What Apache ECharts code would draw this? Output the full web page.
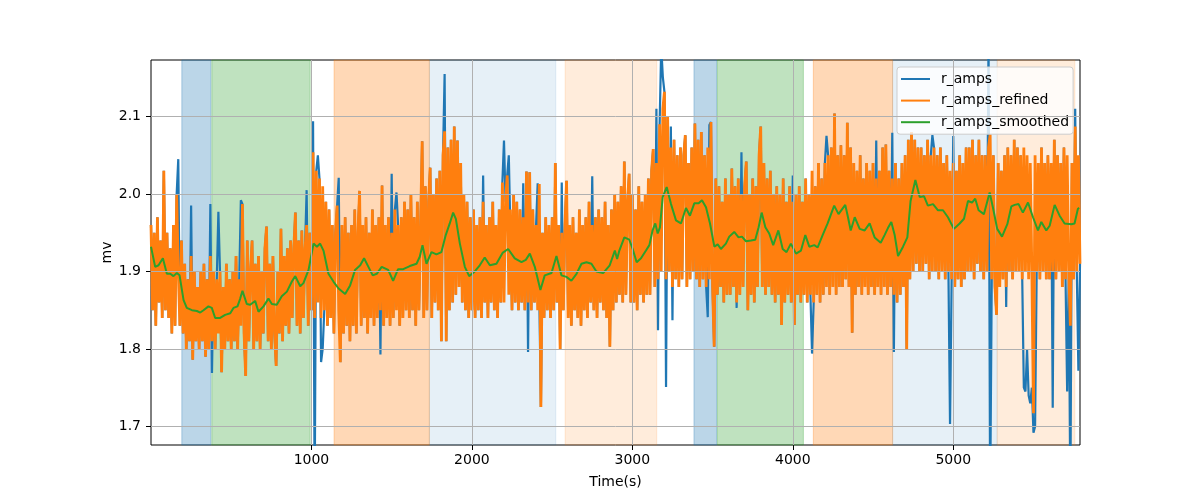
<!DOCTYPE html>
<html><head><meta charset="utf-8">
<script src="https://cdn.jsdelivr.net/npm/echarts@6/dist/echarts.min.js"></script>
<style>html,body{margin:0;padding:0;background:#fff}#chart{width:1200px;height:500px}</style>
</head><body><div id="chart"></div>
<script>
// ---- data ----
const seriesNames = ['r_amps', 'r_amps_refined', 'r_amps_smoothed'];
const xTicks = [1000, 2000, 3000, 4000, 5000];
const yTicks = [1.7, 1.8, 1.9, 2.0, 2.1];
const xRange = [0, 5790];
const yRange = [1.676, 2.173];

// sample period of the amplitude recordings (s)
const samplePeriod = 10;

// r_amps_refined, one value per sample (rows of 100 s)
const ampsRefined = [
  1.96, 1.85, 1.95, 1.83, 1.97, 1.86, 1.94, 1.84, 2.03, 1.85,
  1.95, 1.84, 1.93, 1.82, 1.96, 1.83, 2.00, 1.90, 1.83, 1.94,
  1.82, 1.91, 1.80, 1.89, 1.81, 1.92, 1.786, 1.90, 1.81, 1.88,
  1.80, 1.90, 1.81, 1.91, 1.79, 1.89, 1.80, 1.92, 1.81, 1.90,
  1.80, 1.89, 1.82, 1.90, 1.77, 1.88, 1.80, 1.91, 1.81, 1.89,
  1.80, 1.90, 1.81, 1.92, 1.80, 1.89, 1.83, 1.987, 1.82, 1.765,
  1.94, 1.81, 1.90, 1.94, 1.80, 1.91, 1.81, 1.92, 1.80, 1.90,
  1.82, 1.93, 1.958, 1.81, 1.91, 1.80, 1.92, 1.82, 1.778, 1.90,
  1.82, 1.955, 1.81, 1.92, 1.83, 1.93, 1.82, 1.94, 1.84, 1.93,
  1.976, 1.83, 1.94, 1.82, 1.953, 1.84, 1.93, 1.96, 1.83, 1.95,
  1.85, 2.054, 1.84, 2.03, 1.86, 2.02, 1.84, 2.01, 1.85, 1.99,
  1.83, 1.98, 1.84, 1.96, 1.82, 1.95, 1.985, 1.85, 1.783, 1.96,
  1.82, 1.97, 1.83, 1.95, 1.81, 1.96, 1.83, 1.98, 1.82, 1.95,
  2.004, 1.83, 1.96, 1.84, 1.97, 1.82, 1.95, 1.84, 1.98, 1.83,
  1.96, 1.84, 1.97, 1.85, 2.011, 1.83, 1.96, 1.84, 1.97, 1.83,
  1.95, 1.84, 1.98, 1.85, 1.96, 1.83, 1.97, 1.84, 1.99, 1.85,
  1.98, 1.84, 2.00, 1.85, 1.97, 1.83, 1.99, 1.85, 1.96, 2.068,
  1.84, 2.01, 1.85, 1.99, 2.034, 1.84, 2.00, 1.86, 2.02, 1.85,
  2.03, 1.81, 2.05, 2.081, 1.81, 2.06, 1.85, 2.07, 1.86, 2.087,
  1.87, 2.069, 1.88, 2.04, 1.86, 2.00, 1.85, 1.99, 1.84, 1.97,
  1.85, 1.98, 1.84, 1.96, 1.85, 1.97, 1.84, 1.99, 1.86, 1.96,
  1.84, 1.97, 1.86, 1.99, 1.85, 1.96, 1.84, 1.98, 1.86, 2.015,
  1.86, 1.99, 2.024, 1.87, 1.98, 1.85, 2.00, 1.86, 1.99, 1.85,
  1.98, 1.86, 1.97, 1.85, 2.029, 1.86, 2.028, 1.85, 1.98, 1.86,
  1.96, 1.85, 2.013, 1.725, 1.95, 1.84, 1.97, 1.85, 1.96, 1.84,
  1.97, 1.85, 2.04, 1.86, 1.96, 1.80, 1.95, 1.85, 1.96, 2.017,
  1.84, 1.96, 1.83, 1.97, 1.85, 1.95, 1.84, 1.98, 1.83, 1.96,
  1.85, 1.97, 1.84, 1.99, 1.86, 1.96, 1.85, 1.97, 1.84, 1.98,
  1.86, 1.97, 1.85, 1.99, 1.84, 1.96, 1.803, 1.98, 1.85, 2.00,
  1.86, 1.99, 1.87, 2.01, 1.86, 2.042, 1.87, 1.99, 2.026, 1.86,
  2.00, 1.86, 1.98, 1.85, 2.01, 1.87, 1.99, 1.86, 2.00, 1.87,
  2.02, 1.87, 2.03, 2.058, 1.88, 2.04, 1.89, 2.09, 1.90, 2.11,
  2.132, 1.89, 2.10, 1.90, 2.06, 1.88, 2.07, 1.89, 2.05, 1.88,
  2.06, 1.89, 2.05, 2.076, 1.88, 2.04, 1.89, 2.06, 1.90, 2.091,
  1.89, 2.07, 1.88, 2.08, 1.89, 2.05, 1.88, 2.06, 1.89, 2.093,
  1.88, 1.803, 2.02, 1.87, 2.01, 1.88, 1.99, 1.86, 2.02, 1.87,
  2.00, 1.87, 2.033, 1.88, 2.01, 1.86, 2.02, 1.87, 2.00, 1.88,
  2.01, 2.042, 1.85, 2.00, 1.87, 2.02, 1.86, 2.01, 1.88, 2.05,
  2.087, 1.88, 2.04, 1.87, 2.02, 1.88, 2.03, 1.87, 2.00, 1.86,
  2.01, 1.87, 2.00, 1.831, 2.02, 1.86, 1.99, 1.87, 2.01, 1.86,
  1.99, 1.831, 2.00, 1.87, 2.01, 1.86, 1.99, 1.87, 2.02, 1.86,
  2.00, 1.87, 2.03, 1.86, 2.01, 1.87, 2.04, 1.86, 2.02, 1.87,
  2.04, 1.88, 2.05, 1.87, 2.06, 1.88, 2.104, 1.87, 2.05, 1.88,
  2.063, 1.88, 2.05, 1.89, 2.092, 1.88, 2.06, 1.821, 2.04, 1.87,
  2.03, 1.88, 2.05, 1.87, 2.02, 1.88, 2.04, 1.87, 2.03, 1.88,
  2.04, 1.87, 2.02, 1.88, 2.03, 1.87, 2.06, 1.88, 2.064, 1.87,
  2.03, 1.88, 2.02, 1.87, 2.04, 1.86, 2.02, 1.87, 2.04, 1.88,
  2.05, 1.80, 2.07, 1.89, 2.08, 1.90, 2.07, 1.91, 2.06, 1.90,
  2.06, 1.90, 2.05, 1.91, 2.07, 1.89, 2.05, 1.90, 2.06, 1.90,
  2.05, 1.89, 2.06, 1.90, 2.04, 1.89, 2.05, 1.90, 2.03, 1.89,
  2.04, 1.88, 2.03, 1.89, 2.05, 1.88, 2.04, 1.89, 2.06, 1.90,
  2.06, 1.90, 2.07, 1.89, 2.05, 1.91, 2.07, 1.90, 2.05, 1.89,
  2.05, 1.90, 2.06, 2.077, 1.89, 2.05, 1.88, 1.844, 2.04, 1.88,
  2.03, 1.89, 2.05, 1.88, 2.06, 1.90, 2.05, 1.89, 2.07, 1.90,
  2.06, 1.90, 2.05, 1.89, 2.06, 1.90, 2.05, 1.89, 2.04, 1.90,
  1.717, 2.05, 1.90, 2.04, 1.89, 2.06, 1.90, 2.04, 1.89, 2.05,
  1.89, 2.04, 1.90, 2.07, 1.89, 2.05, 1.90, 2.04, 1.88, 2.06,
  1.89, 2.05, 1.90, 1.83, 2.04, 1.89, 2.087, 1.90, 2.05, 1.91
];

// r_amps: samples where the raw amplitude differs from the refined one (outliers)
const rawOutlierTimes = [170, 250, 370, 380, 420, 560, 970, 1010, 1020, 1040, 1060, 1070, 1170,
  1430, 1500, 1530, 1830, 2070, 2200, 2230, 2240, 2320, 2350, 2410, 2560, 2750, 3150, 3160,
  3180, 3190, 3210, 3240, 3250, 3470, 3480, 3650, 3680, 4000, 4120, 4210, 4520, 4620, 4630,
  4870, 4980, 5000, 5220, 5230, 5330, 5440, 5450, 5460, 5470, 5480, 5490, 5500, 5510,
  5620, 5710, 5730, 5760, 5780];
const rawOutlierValues = [2.045, 1.985, 1.987, 1.769, 1.977, 1.992, 2.005, 2.094, 1.60, 2.05, 1.783, 1.80, 2.021,
  1.793, 2.026, 2.002, 2.155, 2.024, 2.069, 2.05, 2.05, 2.014, 1.796, 2.014, 2.015, 2.023, 2.11, 1.824,
  2.19, 2.151, 1.751, 2.087, 1.837, 1.841, 2.089, 1.853, 2.054, 2.024, 1.794, 2.075, 2.069, 2.079, 1.796,
  2.076, 1.703, 2.075, 2.20, 1.60, 1.854, 1.75, 1.745, 1.80, 1.74, 1.73, 1.75, 1.692, 1.70,
  1.724, 1.745, 1.60, 2.11, 1.772];

// r_amps_smoothed
const smoothTimes = [0, 26, 47, 74, 99, 120, 140, 161, 178, 203, 223, 255, 286, 307, 327, 358, 379, 400, 431, 462,
  494, 514, 539, 556, 570, 597, 618, 649, 670, 701, 732, 753, 784, 815, 847, 878, 899, 930, 950, 982,
  1013, 1034, 1054, 1075, 1106, 1137, 1169, 1210, 1241, 1272, 1304, 1328, 1355, 1382, 1407, 1438, 1478, 1509, 1540, 1572,
  1613, 1655, 1675, 1692, 1717, 1748, 1779, 1810, 1837, 1862, 1883, 1900, 1925, 1956, 1983, 2018, 2049, 2080, 2112, 2153,
  2191, 2226, 2267, 2309, 2336, 2361, 2392, 2427, 2454, 2496, 2527, 2558, 2589, 2620, 2652, 2683, 2714, 2745, 2776, 2818,
  2859, 2891, 2905, 2919, 2950, 2981, 3002, 3027, 3054, 3085, 3106, 3126, 3143, 3158, 3172, 3189, 3214, 3241, 3272, 3303,
  3334, 3359, 3386, 3413, 3434, 3459, 3484, 3511, 3532, 3552, 3583, 3604, 3635, 3662, 3683, 3708, 3739, 3766, 3787, 3806,
  3829, 3853, 3878, 3910, 3937, 3961, 3988, 4020, 4051, 4078, 4103, 4134, 4155, 4186, 4217, 4258, 4285, 4327, 4344, 4361,
  4386, 4417, 4448, 4479, 4510, 4548, 4572, 4593, 4614, 4635, 4656, 4687, 4714, 4734, 4764, 4791, 4818, 4842, 4874, 4905,
  4936, 4967, 5004, 5040, 5067, 5092, 5117, 5137, 5158, 5191, 5227, 5247, 5274, 5304, 5337, 5362, 5383, 5407, 5434, 5466,
  5497, 5528, 5549, 5580, 5601, 5632, 5663, 5694, 5736, 5756, 5777, 5785];
const smoothValues = [1.932, 1.906, 1.908, 1.917, 1.897, 1.897, 1.894, 1.898, 1.895, 1.863, 1.853, 1.850, 1.849, 1.847, 1.850, 1.855, 1.853, 1.840, 1.840, 1.844,
  1.846, 1.853, 1.855, 1.865, 1.875, 1.858, 1.857, 1.862, 1.848, 1.855, 1.865, 1.858, 1.857, 1.868, 1.874, 1.887, 1.894, 1.881, 1.885, 1.902,
  1.936, 1.932, 1.936, 1.927, 1.897, 1.887, 1.878, 1.871, 1.882, 1.902, 1.908, 1.917, 1.906, 1.895, 1.897, 1.906, 1.902, 1.888, 1.903, 1.903,
  1.907, 1.910, 1.919, 1.934, 1.910, 1.925, 1.922, 1.925, 1.947, 1.962, 1.976, 1.968, 1.936, 1.906, 1.894, 1.900, 1.908, 1.918, 1.908, 1.910,
  1.924, 1.929, 1.917, 1.912, 1.915, 1.923, 1.906, 1.876, 1.895, 1.898, 1.920, 1.895, 1.893, 1.888, 1.897, 1.910, 1.912, 1.910, 1.900, 1.898,
  1.908, 1.927, 1.916, 1.927, 1.944, 1.941, 1.929, 1.912, 1.917, 1.927, 1.934, 1.953, 1.962, 1.949, 1.957, 1.996, 2.009, 1.987, 1.966, 1.962,
  1.982, 1.972, 1.988, 1.988, 1.992, 1.983, 1.962, 1.932, 1.935, 1.929, 1.936, 1.945, 1.951, 1.944, 1.945, 1.939, 1.940, 1.941, 1.957, 1.976,
  1.957, 1.949, 1.934, 1.953, 1.929, 1.925, 1.936, 1.923, 1.927, 1.947, 1.932, 1.934, 1.931, 1.947, 1.962, 1.985, 1.974, 1.986, 1.970, 1.953,
  1.970, 1.955, 1.953, 1.962, 1.944, 1.937, 1.947, 1.956, 1.964, 1.947, 1.920, 1.932, 1.944, 1.991, 2.018, 1.996, 1.997, 1.985, 1.987, 1.979,
  1.979, 1.970, 1.955, 1.962, 1.968, 1.991, 1.989, 1.994, 1.979, 1.974, 2.002, 1.983, 1.955, 1.945, 1.961, 1.984, 1.986, 1.987, 1.976, 1.989,
  1.970, 1.953, 1.964, 1.953, 1.959, 1.986, 1.972, 1.962, 1.961, 1.962, 1.981, 1.982];

// shaded intervals (s) and their colours
const spanStarts = [192, 379, 1141, 1735, 2581, 3384, 3530, 4128, 4622, 5274];
const spanEnds   = [373, 992, 1735, 2523, 3152, 3525, 4066, 4622, 5274, 5758];
const spanColors = ['rgba(31,119,180,0.3)', 'rgba(44,160,44,0.3)', 'rgba(255,127,14,0.3)',
  'rgba(31,119,180,0.11)', 'rgba(255,127,14,0.15)', 'rgba(31,119,180,0.3)', 'rgba(44,160,44,0.3)',
  'rgba(255,127,14,0.3)', 'rgba(31,119,180,0.11)', 'rgba(255,127,14,0.15)'];

// ---- build ----
const refinedPts = ampsRefined.map((v, i) => [i * samplePeriod, v]);
const rawPts = refinedPts.map(p => p.slice());
rawOutlierTimes.forEach((t, k) => { rawPts[Math.round(t / samplePeriod)][1] = rawOutlierValues[k]; });
const smoothPts = smoothTimes.map((t, i) => [t, smoothValues[i]]);

const FONT = 'DejaVu Sans';
const chart = echarts.init(document.getElementById('chart'), null, {renderer: 'canvas'});
const gridLines = yTicks.map(v => ({yAxis: v})).concat(xTicks.map(v => ({xAxis: v})));

chart.setOption({
  animation: false,
  backgroundColor: '#ffffff',
  textStyle: {fontFamily: FONT},
  grid: {left: 151, right: 120, top: 60, bottom: 55, show: true, borderColor: '#000', borderWidth: 1, backgroundColor: 'transparent'},
  xAxis: {
    type: 'value', min: xRange[0], max: xRange[1],
    name: 'Time(s)', nameLocation: 'middle', nameGap: 30,
    nameTextStyle: {fontFamily: FONT, fontSize: 14, color: '#000'},
    axisLine: {show: false},
    axisTick: {show: true, inside: false, length: 5, lineStyle: {color: '#000'}, customValues: xTicks},
    axisLabel: {fontFamily: FONT, fontSize: 14, color: '#000', margin: 8, customValues: xTicks,
      formatter: v => String(v)},
    splitLine: {show: false}
  },
  yAxis: {
    type: 'value', min: yRange[0], max: yRange[1],
    name: 'mv', nameLocation: 'middle', nameGap: 37, nameRotate: 90, nameMoveOverlap: false,
    nameTextStyle: {fontFamily: FONT, fontSize: 14, color: '#000'},
    axisLine: {show: false},
    axisTick: {show: true, inside: false, length: 5, lineStyle: {color: '#000'}, customValues: yTicks},
    axisLabel: {fontFamily: FONT, fontSize: 14, color: '#000', margin: 10, customValues: yTicks,
      formatter: v => Number(v).toFixed(1)},
    splitLine: {show: false}
  },
  legend: {
    data: seriesNames,
    orient: 'vertical', left: 897, top: 67, icon: 'rect',
    padding: [5, 4, 5, 4], itemGap: 7.6, itemWidth: 29, itemHeight: 2,
    backgroundColor: 'rgba(255,255,255,0.8)', borderColor: '#cccccc', borderWidth: 1, borderRadius: 3,
    textStyle: {fontFamily: FONT, fontSize: 14, lineHeight: 14, color: '#000', padding: [0, 0, 0, 6]}
  },
  series: [
    {
      name: '_spans', type: 'line', data: [], z: 1, silent: true,
      markArea: {silent: true, data: spanStarts.map((s, i) => [
        {xAxis: s, itemStyle: {color: spanColors[i], borderColor: spanColors[i], borderWidth: 1}},
        {xAxis: spanEnds[i]}])},
      markLine: {silent: true, symbol: 'none', label: {show: false}, animation: false,
        lineStyle: {color: '#b0b0b0', width: 1, type: 'solid'}, data: gridLines}
    },
    {name: seriesNames[0], type: 'line', data: rawPts, z: 2, symbol: 'none', showSymbol: false,
      color: '#1f77b4', lineStyle: {width: 2.2, color: '#1f77b4'}},
    {name: seriesNames[1], type: 'line', data: refinedPts, z: 3, symbol: 'none', showSymbol: false,
      color: '#ff7f0e', lineStyle: {width: 2.8, color: '#ff7f0e'}},
    {name: seriesNames[2], type: 'line', data: smoothPts, z: 4, symbol: 'none', showSymbol: false,
      color: '#2ca02c', lineStyle: {width: 2, color: '#2ca02c'}}
  ]
});
</script>
</body></html>
